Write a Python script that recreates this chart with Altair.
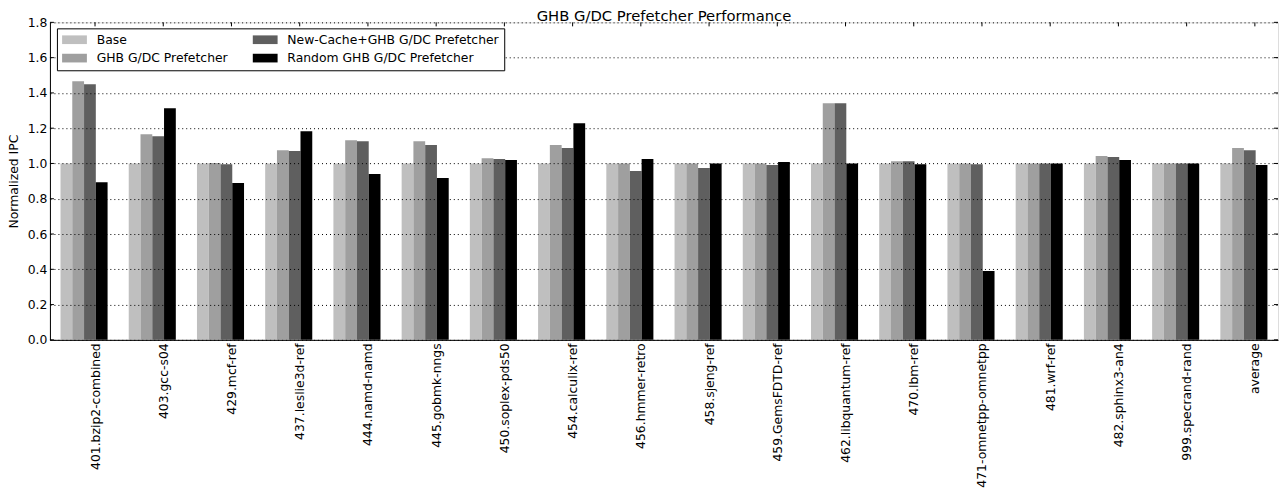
import altair as alt
import pandas as pd

TITLE = "GHB G/DC Prefetcher Performance"

benches = ["401.bzip2-combined", "403.gcc-s04", "429.mcf-ref", "437.leslie3d-ref",
           "444.namd-namd", "445.gobmk-nngs", "450.soplex-pds50", "454.calculix-ref",
           "456.hmmer-retro", "458.sjeng-ref", "459.GemsFDTD-ref", "462.libquantum-ref",
           "470.lbm-ref", "471-omnetpp-omnetpp", "481.wrf-ref", "482.sphinx3-an4",
           "999.specrand-rand", "average"]

series_names = ["Base", "GHB G/DC Prefetcher", "New-Cache+GHB G/DC Prefetcher",
                "Random GHB G/DC Prefetcher"]
series_colors = ["#bfbfbf", "#9f9f9f", "#5f5f5f", "#000000"]

base = [1.0, 1.0, 1.0, 1.0, 1.0, 1.0, 1.0, 1.0, 1.0, 1.0, 1.0, 1.0, 1.0, 1.0, 1.0, 1.0, 1.0, 1.0]
ghb = [1.466, 1.166, 1.002, 1.075, 1.132, 1.126, 1.030, 1.104, 1.0, 1.0, 1.0, 1.342,
       1.013, 1.0, 1.0, 1.042, 1.0, 1.087]
newcache = [1.449, 1.155, 0.996, 1.070, 1.126, 1.104, 1.025, 1.087, 0.957, 0.974, 0.991,
            1.342, 1.013, 0.996, 1.0, 1.036, 1.0, 1.075]
rnd = [0.894, 1.313, 0.889, 1.183, 0.940, 0.917, 1.019, 1.228, 1.025, 1.0, 1.008, 1.0,
       0.996, 0.391, 1.0, 1.019, 1.0, 0.991]

y_ticks = [0.0, 0.2, 0.4, 0.6, 0.8, 1.0, 1.2, 1.4, 1.6, 1.8]

W = 1230
H = 318
FONT = "DejaVu Sans"
FS = 12.4
TICK_OFF = 11

rows = []
for s, vals in zip(series_names, [base, ghb, newcache, rnd]):
    for b, v in zip(benches, vals):
        rows.append({"bench": b, "series": s, "value": v})
df = pd.DataFrame(rows)

xscale = alt.Scale(paddingInner=0.31, paddingOuter=0.155)
yscale = alt.Scale(domain=[0, 1.8], nice=False, zero=True)

bars = alt.Chart(df).mark_bar(strokeWidth=0).encode(
    x=alt.X("bench:N", sort=benches, scale=xscale,
            axis=alt.Axis(title=None, labelAngle=270, labelAlign="right",
                          labelBaseline="middle", labelPadding=3, ticks=False,
                          tickOffset=TICK_OFF, labelFont=FONT, labelFontSize=FS,
                          labelColor="black", domainColor="black", domainWidth=1,
                          zindex=1, labelOverlap=False)),
    xOffset=alt.XOffset("series:N", sort=series_names,
                        scale=alt.Scale(paddingInner=0, paddingOuter=0)),
    y=alt.Y("value:Q", scale=yscale,
            axis=alt.Axis(title="Normalized IPC", values=y_ticks, tickCount=len(y_ticks),
                          format=".1f",
                          ticks=False, labelPadding=3, labelFont=FONT, labelFontSize=FS,
                          labelColor="black", titleFont=FONT, titleFontSize=FS,
                          titleFontWeight="normal", titleColor="black", titlePadding=7,
                          labelOverlap=False,
                          grid=True, gridColor="black", gridDash=[1, 3], gridWidth=1,
                          gridOpacity=1, domainColor="black", zindex=1)),
    color=alt.Color("series:N",
                    scale=alt.Scale(domain=series_names, range=series_colors),
                    legend=alt.Legend(title=None, orient="none", legendX=7, legendY=6,
                                      columns=2, direction="vertical",
                                      symbolType="M-2.07,-0.725L2.07,-0.725L2.07,0.725L-2.07,0.725Z",
                                      symbolSize=144, symbolStrokeWidth=0,
                                      symbolOffset=6.4,
                                      labelFont=FONT, labelFontSize=FS, labelColor="black",
                                      labelOffset=16, columnPadding=25, rowPadding=5.6,
                                      padding=5, fillColor="white", strokeColor="black",
                                      labelLimit=400, zindex=2)),
)

top_ticks = alt.Chart(pd.DataFrame({"bench": benches})).mark_rule(
    color="black", strokeWidth=1, xOffset=TICK_OFF).encode(
    x=alt.X("bench:N", sort=benches, scale=xscale),
    y=alt.value(0), y2=alt.value(4))

tick_df = pd.DataFrame({"t": y_ticks})
left_ticks = alt.Chart(tick_df).mark_rule(color="black", strokeWidth=1).encode(
    y=alt.Y("t:Q", scale=yscale), x=alt.value(0), x2=alt.value(4))
right_ticks = alt.Chart(tick_df).mark_rule(color="black", strokeWidth=1).encode(
    y=alt.Y("t:Q", scale=yscale), x=alt.value(W), x2=alt.value(W - 4))

title_text = alt.Chart(pd.DataFrame({"title": [TITLE]})).mark_text(
    font=FONT, fontSize=14.8, color="black", align="center", baseline="alphabetic").encode(
    text="title:N", x=alt.value(W / 2), y=alt.value(-1))

chart = alt.layer(bars, top_ticks, left_ticks, right_ticks, title_text).properties(
    width=W, height=H,
    autosize=alt.AutoSizeParams(type="none"),
    padding={"left": 42, "top": 14, "right": 2, "bottom": 150},
).configure_view(stroke="black", strokeWidth=1).configure(background="white")

chart.save("out.html", embed_options={"renderer": "svg", "actions": False})
